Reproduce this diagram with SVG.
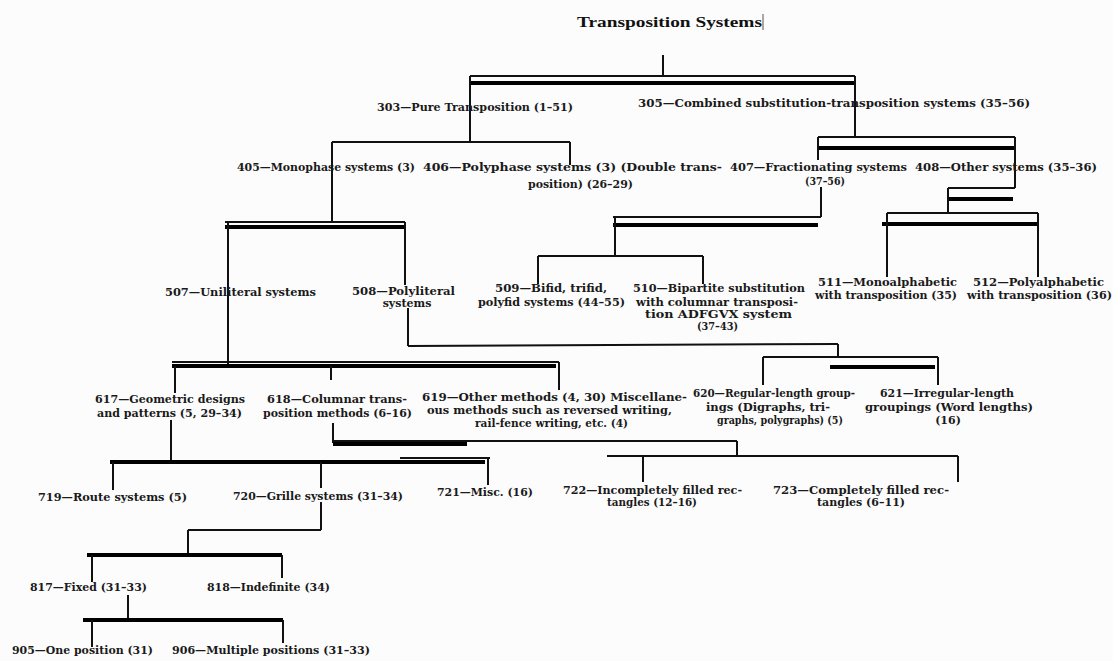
<svg xmlns="http://www.w3.org/2000/svg" width="1113" height="661" viewBox="0 0 1113 661">
<style>
.t{font-family:"DejaVu Serif","Liberation Serif",serif;font-weight:bold;font-size:11px;fill:#1a1a1a}
.title{font-family:"Liberation Serif","DejaVu Serif",serif;font-weight:bold;font-size:15px;fill:#111}
.th{stroke:#111;stroke-width:2;fill:none}
.tk{stroke:#000;stroke-width:4;fill:none}
</style>
<rect width="1113" height="661" fill="#fcfcfc"/>
<g id="title">
<text class="title" x="577" y="27" textLength="185" lengthAdjust="spacingAndGlyphs">Transposition Systems</text>
<line x1="763" y1="14" x2="763" y2="30" stroke="#555" stroke-width="1"/>
</g>
<g id="connectors">
<line class="th" x1="663" y1="55" x2="663" y2="77"/>
<line class="th" x1="470" y1="76" x2="855" y2="76"/>
<line class="tk" x1="470" y1="83" x2="855" y2="83"/>
<line class="th" x1="470" y1="76" x2="470" y2="142"/>
<line class="th" x1="855" y1="76" x2="855" y2="137"/>
<line class="th" x1="332" y1="142" x2="570" y2="142"/>
<line class="th" x1="332" y1="142" x2="332" y2="222"/>
<line class="th" x1="570" y1="142" x2="570" y2="165"/>
<line class="th" x1="818" y1="137" x2="1015" y2="137"/>
<line class="tk" x1="818" y1="148" x2="1016" y2="148"/>
<line class="th" x1="818" y1="137" x2="818" y2="160"/>
<line class="th" x1="1015" y1="137" x2="1015" y2="188"/>
<line class="th" x1="821" y1="187" x2="821" y2="217"/>
<line class="th" x1="613" y1="217" x2="821" y2="217"/>
<line class="tk" x1="613" y1="225" x2="818" y2="225"/>
<line class="th" x1="615" y1="217" x2="615" y2="256"/>
<line class="th" x1="538" y1="256" x2="703" y2="256"/>
<line class="th" x1="538" y1="256" x2="538" y2="284"/>
<line class="th" x1="703" y1="256" x2="703" y2="284"/>
<line class="th" x1="948" y1="188" x2="1015" y2="188"/>
<line class="tk" x1="948" y1="199" x2="1013" y2="199"/>
<line class="th" x1="948" y1="188" x2="948" y2="213"/>
<line class="th" x1="887" y1="213" x2="1038" y2="213"/>
<line class="tk" x1="882" y1="224" x2="1038" y2="224"/>
<line class="th" x1="887" y1="213" x2="887" y2="277"/>
<line class="th" x1="1038" y1="213" x2="1038" y2="277"/>
<line class="th" x1="225" y1="222" x2="405" y2="222"/>
<line class="tk" x1="225" y1="227" x2="405" y2="227"/>
<line class="th" x1="228" y1="222" x2="228" y2="366"/>
<line class="th" x1="405" y1="222" x2="405" y2="285"/>
<line class="th" x1="408" y1="308" x2="408" y2="346"/>
<line class="th" x1="408" y1="346" x2="838" y2="344"/>
<line class="th" x1="838" y1="344" x2="838" y2="357"/>
<line class="th" x1="763" y1="357" x2="938" y2="357"/>
<line class="tk" x1="830" y1="367" x2="935" y2="367"/>
<line class="th" x1="763" y1="357" x2="763" y2="385"/>
<line class="th" x1="938" y1="357" x2="938" y2="385"/>
<line class="th" x1="172" y1="362" x2="559" y2="362"/>
<line class="tk" x1="172" y1="366" x2="556" y2="366"/>
<line class="th" x1="175" y1="366" x2="175" y2="393"/>
<line class="th" x1="331" y1="366" x2="331" y2="380"/>
<line class="th" x1="559" y1="362" x2="559" y2="390"/>
<line class="th" x1="171" y1="420" x2="171" y2="462"/>
<line class="th" x1="333" y1="423" x2="333" y2="443"/>
<line class="th" x1="333" y1="441" x2="737" y2="441"/>
<line class="tk" x1="333" y1="444" x2="467" y2="444"/>
<line class="th" x1="737" y1="441" x2="737" y2="456"/>
<line class="th" x1="607" y1="456" x2="958" y2="456"/>
<line class="th" x1="643" y1="456" x2="643" y2="482"/>
<line class="th" x1="958" y1="456" x2="958" y2="482"/>
<line class="tk" x1="110" y1="462" x2="485" y2="462"/>
<line class="th" x1="400" y1="458" x2="490" y2="458"/>
<line class="th" x1="113" y1="462" x2="113" y2="490"/>
<line class="th" x1="321" y1="462" x2="321" y2="488"/>
<line class="th" x1="488" y1="458" x2="488" y2="485"/>
<line class="th" x1="321" y1="502" x2="321" y2="530"/>
<line class="th" x1="188" y1="530" x2="321" y2="530"/>
<line class="th" x1="188" y1="530" x2="188" y2="555"/>
<line class="tk" x1="87" y1="555" x2="282" y2="555"/>
<line class="th" x1="92" y1="555" x2="92" y2="582"/>
<line class="th" x1="282" y1="555" x2="282" y2="578"/>
<line class="th" x1="128" y1="595" x2="128" y2="620"/>
<line class="tk" x1="83" y1="620" x2="283" y2="620"/>
<line class="th" x1="92" y1="620" x2="92" y2="647"/>
<line class="th" x1="283" y1="620" x2="283" y2="643"/>
</g>
<g id="n303"><text class="t" x="377" y="111" textLength="196" lengthAdjust="spacingAndGlyphs">303—Pure Transposition (1–51)</text></g>
<g id="n305"><text class="t" x="638" y="107" textLength="392" lengthAdjust="spacingAndGlyphs">305—Combined substitution-transposition systems (35–56)</text></g>
<g id="n405"><text class="t" x="237" y="171" textLength="178" lengthAdjust="spacingAndGlyphs">405—Monophase systems (3)</text></g>
<g id="n406"><text class="t" x="423" y="171" textLength="299" lengthAdjust="spacingAndGlyphs">406—Polyphase systems (3) (Double trans-</text>
<text class="t" x="528" y="188" textLength="105" lengthAdjust="spacingAndGlyphs">position) (26–29)</text></g>
<g id="n407"><text class="t" x="730" y="171" textLength="177" lengthAdjust="spacingAndGlyphs">407—Fractionating systems</text>
<text class="t" x="805" y="185" textLength="40" lengthAdjust="spacingAndGlyphs">(37–56)</text></g>
<g id="n408"><text class="t" x="915" y="171" textLength="182" lengthAdjust="spacingAndGlyphs">408—Other systems (35–36)</text></g>
<g id="n507"><text class="t" x="165" y="296" textLength="151" lengthAdjust="spacingAndGlyphs">507—Uniliteral systems</text></g>
<g id="n508"><text class="t" x="352" y="295" textLength="103" lengthAdjust="spacingAndGlyphs">508—Polyliteral</text>
<text class="t" x="407" y="307" text-anchor="middle">systems</text></g>
<g id="n509"><text class="t" x="495" y="292" textLength="112" lengthAdjust="spacingAndGlyphs">509—Bifid, trifid,</text>
<text class="t" x="478" y="306" textLength="147" lengthAdjust="spacingAndGlyphs">polyfid systems (44–55)</text></g>
<g id="n510"><text class="t" x="633" y="292" textLength="172" lengthAdjust="spacingAndGlyphs">510—Bipartite substitution</text>
<text class="t" x="636" y="306" textLength="162" lengthAdjust="spacingAndGlyphs">with columnar transposi-</text>
<text class="t" x="645" y="318" textLength="147" lengthAdjust="spacingAndGlyphs">tion ADFGVX system</text>
<text class="t" x="697" y="330" textLength="41" lengthAdjust="spacingAndGlyphs">(37–43)</text></g>
<g id="n511"><text class="t" x="818" y="286" textLength="139" lengthAdjust="spacingAndGlyphs">511—Monoalphabetic</text>
<text class="t" x="815" y="299" textLength="142" lengthAdjust="spacingAndGlyphs">with transposition (35)</text></g>
<g id="n512"><text class="t" x="973" y="286" textLength="131" lengthAdjust="spacingAndGlyphs">512—Polyalphabetic</text>
<text class="t" x="967" y="299" textLength="145" lengthAdjust="spacingAndGlyphs">with transposition (36)</text></g>
<g id="n617"><text class="t" x="95" y="403" textLength="150" lengthAdjust="spacingAndGlyphs">617—Geometric designs</text>
<text class="t" x="97" y="417" textLength="145" lengthAdjust="spacingAndGlyphs">and patterns (5, 29–34)</text></g>
<g id="n618"><text class="t" x="267" y="403" textLength="140" lengthAdjust="spacingAndGlyphs">618—Columnar trans-</text>
<text class="t" x="263" y="417" textLength="149" lengthAdjust="spacingAndGlyphs">position methods (6–16)</text></g>
<g id="n619"><text class="t" x="422" y="401" textLength="265" lengthAdjust="spacingAndGlyphs">619—Other methods (4, 30) Miscellane-</text>
<text class="t" x="427" y="414" textLength="245" lengthAdjust="spacingAndGlyphs">ous methods such as reversed writing,</text>
<text class="t" x="475" y="427" textLength="153" lengthAdjust="spacingAndGlyphs">rail-fence writing, etc. (4)</text></g>
<g id="n620"><text class="t" x="693" y="397" textLength="162" lengthAdjust="spacingAndGlyphs">620—Regular-length group-</text>
<text class="t" x="706" y="411" textLength="124" lengthAdjust="spacingAndGlyphs">ings (Digraphs, tri-</text>
<text class="t" x="717" y="424" textLength="126" lengthAdjust="spacingAndGlyphs">graphs, polygraphs) (5)</text></g>
<g id="n621"><text class="t" x="880" y="397" textLength="134" lengthAdjust="spacingAndGlyphs">621—Irregular-length</text>
<text class="t" x="865" y="411" textLength="168" lengthAdjust="spacingAndGlyphs">groupings (Word lengths)</text>
<text class="t" x="948" y="424" text-anchor="middle">(16)</text></g>
<g id="n719"><text class="t" x="38" y="501" textLength="149" lengthAdjust="spacingAndGlyphs">719—Route systems (5)</text></g>
<g id="n720"><text class="t" x="233" y="500" textLength="170" lengthAdjust="spacingAndGlyphs">720—Grille systems (31–34)</text></g>
<g id="n721"><text class="t" x="437" y="496" textLength="96" lengthAdjust="spacingAndGlyphs">721—Misc. (16)</text></g>
<g id="n722"><text class="t" x="563" y="494" textLength="179" lengthAdjust="spacingAndGlyphs">722—Incompletely filled rec-</text>
<text class="t" x="607" y="506" textLength="90" lengthAdjust="spacingAndGlyphs">tangles (12–16)</text></g>
<g id="n723"><text class="t" x="773" y="494" textLength="176" lengthAdjust="spacingAndGlyphs">723—Completely filled rec-</text>
<text class="t" x="861" y="506" text-anchor="middle">tangles (6–11)</text></g>
<g id="n817"><text class="t" x="30" y="591" textLength="117" lengthAdjust="spacingAndGlyphs">817—Fixed (31–33)</text></g>
<g id="n818"><text class="t" x="207" y="591" textLength="123" lengthAdjust="spacingAndGlyphs">818—Indefinite (34)</text></g>
<g id="n905"><text class="t" x="12" y="654" textLength="141" lengthAdjust="spacingAndGlyphs">905—One position (31)</text></g>
<g id="n906"><text class="t" x="172" y="654" textLength="198" lengthAdjust="spacingAndGlyphs">906—Multiple positions (31–33)</text></g>
</svg>
